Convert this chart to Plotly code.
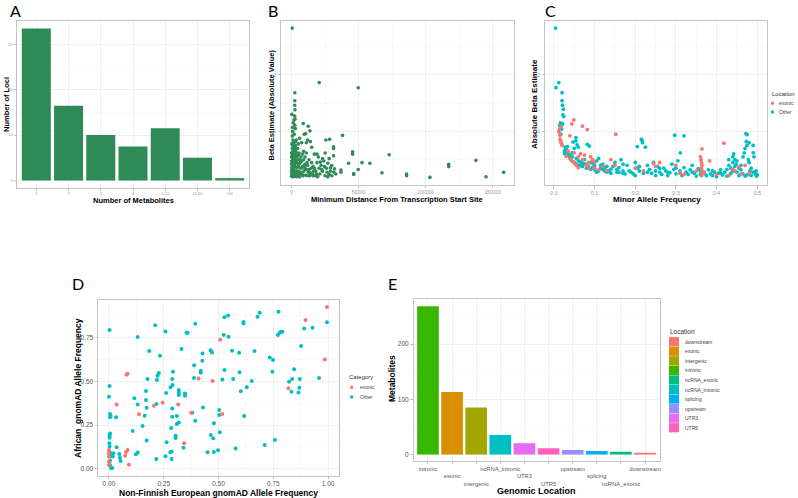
import plotly.graph_objects as go

W, H = 798, 498

# ---------------- Panel A ----------------
A_categories = ["1", "2", "3", "4", "5-10", "11-30", ">30"]
A_loci = [67, 33, 20, 15, 23, 10, 1]

# ---------------- Panel B ----------------
B_dist = [500, 20600, 49700, 2400, 2400, 2300, 2500, 200, 2300, 1800, 2400, 600, 8700, 12400, 13700,
          38000, 28400, 25600, 9400, 10500, 6000, 45500, 45500, 72800, 52500, 58400, 42500, 31300, 31300,
          31300, 28000, 23100, 36800, 36800, 46300, 46300, 49700, 67400, 85800, 85800, 103200, 117200,
          117200, 137500, 145000, 158200,
          14000, 12000, 11000, 7500, 5000, 3000, 1000, 15000, 17000, 20000, 22000, 24000, 26000, 27000,
          29000, 30000, 18000, 19000, 16000, 21000, 25000, 28000, 32000, 30000, 23000, 26500, 20500, 8000,
          9000, 10000, 11500, 13000, 14500, 12500, 9500, 7000, 6000, 5500, 4500, 4000, 3500, 6500, 8500,
          10500, 13500, 15500, 17500, 19500, 16500, 11000, 9000, 7500, 5000, 4000, 3000, 2000, 1000, 500,
          0, 0, 0, 0, 0, 0, 0, 0, 500, 500, 500, 500, 1000, 1000, 1000, 1000, 1000, 1500, 1500, 1500,
          1500, 2000, 2000, 2000, 2000, 2500, 2500, 2500, 2500, 3000, 3000, 3000, 3500, 3500, 3500, 4000,
          4000, 4500, 4500, 5000, 5000, 5500, 5500, 6000, 6500, 7000, 7000, 8000, 8000, 9000, 10000, 10000,
          11000, 12000, 12000, 13000, 14000, 15000, 16000, 17000, 18500, 3000, 1500, 500, 800, 2000, 3500,
          200, 2800, 1200, 2600, 29000, 33000, 31500, 27000, 24500, 22500, 21500, 19000, 25000]
B_beta = [2.82, 1.86, 1.77, 1.68, 1.54, 1.46, 1.38, 1.30, 1.27, 1.20, 1.11, 1.07, 1.14, 1.09, 1.01,
          0.93, 0.86, 0.85, 0.95, 0.96, 0.88, 0.64, 0.60, 0.59, 0.45, 0.44, 0.44, 0.73, 0.70,
          0.57, 0.52, 0.52, 0.32, 0.28, 0.26, 0.24, 0.33, 0.27, 0.25, 0.22, 0.19, 0.42,
          0.38, 0.49, 0.20, 0.28,
          0.82, 0.85, 0.80, 0.80, 0.78, 0.82, 0.85, 0.72, 0.60, 0.55, 0.40, 0.48, 0.35, 0.44,
          0.30, 0.40, 0.30, 0.45, 0.38, 0.25, 0.22, 0.24, 0.34, 0.22, 0.30, 0.28, 0.35, 0.60,
          0.65, 0.55, 0.45, 0.50, 0.35, 0.28, 0.40, 0.35, 0.50, 0.62, 0.70, 0.45, 0.30, 0.25, 0.22,
          0.23, 0.22, 0.25, 0.22, 0.20, 0.30, 0.33, 0.30, 0.48, 0.38, 0.55, 0.65, 0.72, 0.75, 0.70,
          0.62, 0.55, 0.48, 0.42, 0.36, 0.30, 0.25, 0.21, 0.58, 0.45, 0.33, 0.23, 0.65, 0.52, 0.40, 0.28, 0.20, 0.60, 0.47, 0.35,
          0.24, 0.55, 0.42, 0.31, 0.21, 0.68, 0.50, 0.38, 0.26, 0.57, 0.44, 0.22, 0.62, 0.48, 0.20, 0.36,
          0.24, 0.50, 0.28, 0.58, 0.22, 0.42, 0.30, 0.20, 0.45, 0.55, 0.27, 0.38, 0.24, 0.50, 0.35, 0.42,
          0.62, 0.40, 0.22, 0.33, 0.27, 0.45, 0.22, 0.35, 0.25, 0.75, 0.80, 0.92, 1.00, 0.95, 0.85,
          0.78, 1.05, 1.15, 1.22, 0.36, 0.25, 0.28, 0.20, 0.38, 0.33, 0.46, 0.60, 0.62]

# ---------------- Panel C ----------------
C_other_maf = [0.004, 0.005, 0.012, 0.020, 0.020, 0.021, 0.023, 0.022, 0.021, 0.019, 0.024, 0.018,
               0.054, 0.054, 0.057, 0.082, 0.087, 0.047, 0.026, 0.026, 0.030, 0.035, 0.040, 0.045, 0.050,
               0.060, 0.033, 0.038, 0.042, 0.050, 0.055, 0.060, 0.065, 0.070, 0.075, 0.080, 0.085, 0.090,
               0.095, 0.100, 0.105, 0.110, 0.115, 0.120, 0.125, 0.130, 0.140, 0.150, 0.155, 0.160, 0.165,
               0.170, 0.175, 0.180, 0.190, 0.200, 0.200, 0.205, 0.210, 0.215, 0.217, 0.218, 0.220, 0.205,
               0.225, 0.230, 0.235, 0.240, 0.245, 0.250, 0.255, 0.260, 0.265, 0.270, 0.275, 0.280, 0.285,
               0.290, 0.297, 0.320, 0.311, 0.295, 0.300, 0.305, 0.310, 0.315, 0.320, 0.325, 0.330, 0.335,
               0.340, 0.345, 0.350, 0.355, 0.360, 0.370, 0.375, 0.380, 0.385, 0.390, 0.395, 0.400, 0.405,
               0.410, 0.415, 0.420, 0.425, 0.430, 0.435, 0.440, 0.440, 0.440, 0.442, 0.445, 0.445, 0.448,
               0.450, 0.450, 0.455, 0.460, 0.460, 0.465, 0.465, 0.468, 0.470, 0.472, 0.475, 0.473, 0.480,
               0.475, 0.478, 0.480, 0.482, 0.485, 0.485, 0.490, 0.490, 0.490, 0.492, 0.495, 0.497, 0.498,
               0.500, 0.430, 0.425, 0.435, 0.455, 0.470, 0.475,
               0.100, 0.110, 0.120, 0.130, 0.140, 0.080, 0.090, 0.070, 0.060, 0.105, 0.135, 0.145, 0.160,
               0.170, 0.185, 0.195, 0.210, 0.230, 0.250, 0.260, 0.280, 0.300, 0.340, 0.360, 0.390, 0.410,
               0.170, 0.155, 0.125, 0.115, 0.095, 0.075, 0.065, 0.055, 0.045, 0.036, 0.030, 0.028, 0.016,
               0.017, 0.014]
C_other_beta = [2.82, 1.77, 1.86, 1.68, 1.54, 1.46, 1.39, 1.29, 1.13, 1.04, 1.26, 1.10,
                0.89, 0.83, 0.76, 0.77, 0.74, 0.81, 0.66, 0.61, 0.63, 0.60, 0.58, 0.62, 0.70,
                0.72, 0.73, 0.55, 0.50, 0.45, 0.42, 0.48, 0.40, 0.44, 0.50, 0.42, 0.38, 0.45,
                0.36, 0.40, 0.48, 0.52, 0.35, 0.42, 0.30, 0.38, 0.33, 0.45, 0.28, 0.36, 0.50,
                0.30, 0.25, 0.40, 0.28, 0.45, 0.22, 0.35, 0.30, 0.86, 0.83, 0.80, 0.26, 0.73,
                0.72, 0.40, 0.33, 0.26, 0.45, 0.22, 0.38, 0.28, 0.24, 0.35, 0.30, 0.22, 0.27,
                0.42, 0.93, 0.92, 0.62, 0.33, 0.25, 0.48, 0.30, 0.22, 0.36, 0.28, 0.24, 0.32,
                0.40, 0.26, 0.21, 0.34, 0.30, 0.26, 0.22, 0.32, 0.25, 0.22, 0.28, 0.20, 0.26,
                0.32, 0.23, 0.28, 0.21, 0.40, 0.35, 0.30, 0.45, 0.55, 0.60, 0.50, 0.38, 0.42,
                0.48, 0.28, 0.35, 0.32, 0.40, 0.25, 0.55, 0.62, 0.70, 0.96, 0.94, 0.82, 0.80,
                0.75, 0.50, 0.45, 0.30, 0.35, 0.22, 0.28, 0.62, 0.75, 0.55, 0.25, 0.30, 0.21,
                0.23, 0.50, 0.33, 0.26, 0.22, 0.21, 0.23,
                0.32, 0.30, 0.33, 0.28, 0.26, 0.35, 0.33, 0.38, 0.40, 0.28, 0.30, 0.38, 0.28,
                0.42, 0.30, 0.25, 0.38, 0.28, 0.30, 0.35, 0.28, 0.35, 0.28, 0.24, 0.30, 0.26,
                0.26, 0.33, 0.36, 0.40, 0.44, 0.42, 0.46, 0.52, 0.55, 0.58, 0.68, 0.72, 1.15,
                0.95, 1.10]
C_exonic_maf = [0.012, 0.015, 0.015, 0.018, 0.013, 0.016, 0.017, 0.020, 0.049, 0.044, 0.070, 0.082,
                0.039, 0.152, 0.364, 0.418, 0.383, 0.360, 0.362, 0.363, 0.364, 0.362, 0.365, 0.366,
                0.363, 0.040, 0.045, 0.050, 0.055, 0.060, 0.065, 0.070, 0.075, 0.080, 0.085, 0.090,
                0.095, 0.100, 0.110, 0.120, 0.130, 0.140, 0.060, 0.050, 0.035, 0.030, 0.200, 0.220,
                0.245, 0.260, 0.300, 0.310, 0.320, 0.350, 0.370, 0.400, 0.440, 0.445, 0.455, 0.460,
                0.480, 0.430, 0.470, 0.250, 0.150, 0.100, 0.085]
C_exonic_beta = [0.99, 0.93, 0.86, 0.79, 1.03, 1.08, 0.82, 0.75, 1.20, 1.13, 1.09, 1.03,
                 0.92, 0.95, 0.69, 0.79, 0.48, 0.55, 0.50, 0.45, 0.40, 0.35, 0.30, 0.26,
                 0.22, 0.52, 0.47, 0.44, 0.40, 0.55, 0.60, 0.50, 0.58, 0.40, 0.36, 0.55,
                 0.50, 0.35, 0.32, 0.38, 0.30, 0.50, 0.36, 0.62, 0.65, 0.56, 0.35, 0.30,
                 0.43, 0.45, 0.40, 0.26, 0.24, 0.30, 0.28, 0.24, 0.33, 0.30, 0.37, 0.25,
                 0.26, 0.22, 0.40, 0.38, 0.40, 0.45, 0.45]

# ---------------- Panel D ----------------
D_other_nfe = [0.003, 0.003, 0.000, 0.005, 0.008, 0.005, 0.005, 0.003, 0.003, 0.002, 0.003, 0.003,
               0.003, 0.005, 0.005, 0.009, 0.032, 0.035, 0.020, 0.050, 0.047, 0.053, 0.015, 0.014,
               0.017, 0.116, 0.131, 0.132, 0.123, 0.108, 0.131, 0.184, 0.176, 0.169, 0.169, 0.172,
               0.163, 0.153, 0.172, 0.211, 0.233, 0.216, 0.222, 0.219, 0.228, 0.217, 0.258, 0.261,
               0.263, 0.258, 0.280, 0.286, 0.286, 0.284, 0.289, 0.289, 0.290, 0.289, 0.292, 0.281,
               0.304, 0.304, 0.310, 0.319, 0.319, 0.319, 0.319, 0.310, 0.331, 0.340, 0.347, 0.347,
               0.354, 0.359, 0.389, 0.388, 0.394, 0.381, 0.394, 0.419, 0.419, 0.427, 0.426, 0.429,
               0.450, 0.464, 0.470, 0.465, 0.476, 0.479, 0.479, 0.498, 0.503, 0.503, 0.506, 0.518,
               0.524, 0.527, 0.527, 0.544, 0.546, 0.562, 0.567, 0.578, 0.594, 0.596, 0.602, 0.614,
               0.614, 0.617, 0.629, 0.652, 0.664, 0.678, 0.688, 0.734, 0.749, 0.746, 0.711, 0.758,
               0.774, 0.771, 0.780, 0.784, 0.792, 0.822, 0.833, 0.836, 0.845, 0.865, 0.869, 0.871,
               0.877, 0.891, 0.929, 0.959, 0.995]
D_other_afr = [0.794, 0.473, 0.412, 0.313, 0.302, 0.294, 0.202, 0.190, 0.177, 0.145, 0.126, 0.097,
               0.069, 0.046, 0.021, 0.004, 0.294, 0.122, 0.088, 0.063, 0.084, 0.044, 0.004, 0.082,
               0.069, 0.403, 0.368, 0.092, 0.082, 0.216, 0.754, 0.674, 0.513, 0.445, 0.393, 0.349,
               0.303, 0.244, 0.162, 0.821, 0.647, 0.055, 0.532, 0.508, 0.548, 0.370, 0.786, 0.433,
               0.151, 0.071, 0.094, 0.099, 0.055, 0.233, 0.298, 0.345, 0.479, 0.513, 0.555, 0.466,
               0.189, 0.176, 0.256, 0.450, 0.435, 0.422, 0.265, 0.302, 0.685, 0.120, 0.431, 0.418,
               0.779, 0.779, 0.592, 0.519, 0.275, 0.321, 0.830, 0.561, 0.550, 0.660, 0.618, 0.351,
               0.094, 0.679, 0.666, 0.193, 0.174, 0.260, 0.095, 0.105, 0.336, 0.307, 0.208, 0.511,
               0.765, 0.565, 0.868, 0.878, 0.756, 0.676, 0.513, 0.116, 0.664, 0.552, 0.443, 0.840,
               0.832, 0.302, 0.466, 0.502, 0.674, 0.870, 0.893, 0.637, 0.622, 0.555, 0.135, 0.164,
               0.899, 0.765, 0.779, 0.784, 0.784, 0.498, 0.441, 0.513, 0.569, 0.437, 0.464, 0.513,
               0.702, 0.803, 0.807, 0.519, 0.838]
D_exonic_nfe = [0.000, 0.000, 0.000, 0.000, 0.000, 0.035, 0.080, 0.085, 0.078, 0.085, 0.074, 0.091,
                0.137, 0.205, 0.245, 0.316, 0.343, 0.375, 0.409, 0.473, 0.508, 0.517, 0.819, 0.897,
                0.985, 0.995]
D_exonic_afr = [0.107, 0.088, 0.069, 0.040, 0.021, 0.368, 0.538, 0.544, 0.095, 0.107, 0.074, 0.023,
                0.311, 0.361, 0.378, 0.368, 0.145, 0.321, 0.517, 0.502, 0.739, 0.313, 0.460, 0.851,
                0.626, 0.926]

# ---------------- Panel E ----------------
E_locations = ["intronic", "exonic", "intergenic", "ncRNA_intronic", "UTR3", "UTR5",
               "upstream", "splicing", "ncRNA_exonic", "downstream"]
E_counts = [269, 113, 85, 35, 20, 11, 8, 6, 5, 3]
E_legend_order = ["downstream", "exonic", "intergenic", "intronic", "ncRNA_exonic",
                  "ncRNA_intronic", "splicing", "upstream", "UTR3", "UTR5"]
E_palette = {"downstream": "#F8766D", "exonic": "#D89000", "intergenic": "#A3A500",
             "intronic": "#39B600", "ncRNA_exonic": "#00BF7D", "ncRNA_intronic": "#00BFC4",
             "splicing": "#00B0F6", "upstream": "#9590FF", "UTR3": "#E76BF3", "UTR5": "#FF62BC"}

GREEN = "#2E8B57"
RED = "#F8766D"
TEAL = "#00BFC4"
FONT = "Liberation Sans"
FRAME = "#c4c4c4"
GRID = "#ececec"
MINOR = "#f6f6f6"


def fx(x):
    return x / W


def fy(y):
    return 1 - y / H


fig = go.Figure()

fig.add_trace(go.Bar(x=A_categories, y=A_loci, marker_color=GREEN, width=0.9,
                     marker_line_width=0, xaxis="x", yaxis="y"))
fig.add_trace(go.Scatter(x=B_dist, y=B_beta, mode="markers",
                         marker=dict(color=GREEN, size=3.6), xaxis="x2", yaxis="y2"))
fig.add_trace(go.Scatter(x=C_other_maf, y=C_other_beta, mode="markers",
                         marker=dict(color=TEAL, size=3.8), xaxis="x3", yaxis="y3"))
fig.add_trace(go.Scatter(x=C_exonic_maf, y=C_exonic_beta, mode="markers",
                         marker=dict(color=RED, size=3.8), xaxis="x3", yaxis="y3"))
fig.add_trace(go.Scatter(x=D_other_nfe, y=D_other_afr, mode="markers",
                         marker=dict(color=TEAL, size=4), xaxis="x4", yaxis="y4"))
fig.add_trace(go.Scatter(x=D_exonic_nfe, y=D_exonic_afr, mode="markers",
                         marker=dict(color=RED, size=4), xaxis="x4", yaxis="y4"))
fig.add_trace(go.Bar(x=E_locations, y=E_counts, width=0.9, marker_line_width=0,
                     marker_color=[E_palette[k] for k in E_locations], xaxis="x5", yaxis="y5"))


def axis(domain, rng, anchor, tickvals=None, ticktext=None, tsize=5, tcolor="#9a9a9a",
         minor_dtick=None, minor_tick0=0, fmt=None, grid=True, category=False, ticklen=2.5):
    d = dict(domain=domain, range=rng, anchor=anchor, showline=True, mirror=True,
             linecolor=FRAME, linewidth=1, ticks="outside", ticklen=ticklen, tickcolor="#b0b0b0",
             tickwidth=0.8, tickfont=dict(size=tsize, color=tcolor, family=FONT), tickangle=0,
             showgrid=grid, gridcolor=GRID, gridwidth=0.8, zeroline=False, automargin=False,
             fixedrange=True)
    if category:
        d["type"] = "category"
    if tickvals is not None:
        d["tickmode"] = "array"
        d["tickvals"] = tickvals
        if ticktext is not None:
            d["ticktext"] = ticktext
    if fmt:
        d["tickformat"] = fmt
    if minor_dtick is not None:
        d["minor"] = dict(dtick=minor_dtick, tick0=minor_tick0, showgrid=True,
                          gridcolor=MINOR, gridwidth=0.8, ticks="")
    return d


E_ticktext = [("<br>" * (i % 3)) + name for i, name in enumerate(E_locations)]

layout = dict(
    width=W, height=H, margin=dict(l=0, r=0, t=0, b=0), showlegend=False,
    paper_bgcolor="white", plot_bgcolor="white", template="none",
    font=dict(family=FONT),
    xaxis=axis([fx(17), fx(249)], [-0.6, 6.6], "y", tsize=4, category=True, ticklen=1.5),
    yaxis=axis([fy(188), fy(21)], [-3.35, 70.35], "x", tickvals=[0, 20, 40, 60], tsize=4,
               minor_dtick=10, minor_tick0=10),
    xaxis2=axis([fx(281), fx(514)], [-7900, 165900], "y2", tickvals=[0, 50000, 100000, 150000],
                tsize=5, fmt="d", minor_dtick=50000, minor_tick0=25000),
    yaxis2=axis([fy(184.5), fy(21)], [0.065, 2.945], "x2", tickvals=[1, 2], tsize=5.5,
                minor_dtick=1, minor_tick0=0.5),
    xaxis3=axis([fx(545), fx(767)], [-0.022, 0.524], "y3", tickvals=[0, 0.1, 0.2, 0.3, 0.4, 0.5],
                tsize=5.5, fmt=".1f", minor_dtick=0.1, minor_tick0=0.05),
    yaxis3=axis([fy(185), fy(21)], [0.053, 2.945], "x3", tickvals=[1, 2], tsize=5.5,
                minor_dtick=1, minor_tick0=0.5),
    xaxis4=axis([fx(98), fx(339)], [-0.05, 1.05], "y4", tickvals=[0, 0.25, 0.5, 0.75, 1.0],
                tsize=6.5, tcolor="#555555", fmt=".2f", minor_dtick=0.25, minor_tick0=0.125,
                ticklen=1.5),
    yaxis4=axis([fy(476), fy(299.5)], [-0.042, 0.969], "x4", tickvals=[0, 0.25, 0.5, 0.75],
                tsize=6.5, tcolor="#555555", fmt=".2f", minor_dtick=0.25, minor_tick0=0.125),
    xaxis5=axis([fx(413.5), fx(659.5)], [-0.6, 9.6], "y5", tickvals=E_locations,
                ticktext=E_ticktext, tsize=5.8, tcolor="#555555", category=True, ticklen=1.8),
    yaxis5=axis([fy(461), fy(299)], [-12, 282], "x5", tickvals=[0, 100, 200], tsize=6.5,
                tcolor="#555555", minor_dtick=100, minor_tick0=50),
)

annotations = []
shapes = []


def text(x, y, s, size, bold=False, angle=0, xanchor="center", color="black", family=FONT):
    annotations.append(dict(x=fx(x), y=fy(y), xref="paper", yref="paper", text=(f"<b>{s}</b>" if bold else s),
                            showarrow=False, xanchor=xanchor, yanchor="middle", textangle=angle,
                            font=dict(size=size, color=color, family=family)))


# panel letters
for letter, (lx, ly) in {"A": (15, 10), "B": (273, 10), "C": (550, 10),
                         "D": (78, 283), "E": (392, 283)}.items():
    text(lx, ly, letter, 16, family="Lato")

# axis titles
text(133, 200.5, "Number of Metabolites", 7.5, bold=True)
text(7, 105, "Number of Loci", 7.5, bold=True, angle=-90)
text(397, 199, "Minimum Distance From Transcription Start Site", 7.5, bold=True)
text(271.5, 105, "Beta Estimate (Absolute Value)", 7.5, bold=True, angle=-90)
text(657, 199, "Minor Allele Frequency", 8, bold=True)
text(535, 104, "Absolute Beta Estimate", 8, bold=True, angle=-90)
text(218, 492.5, "Non-Finnish European gnomAD Allele Frequency", 8.5, bold=True)
text(78, 388, "African\u00a0 gnomAD Allele Frequency", 8.5, bold=True, angle=-90)
text(536, 491, "Genomic Location", 9, bold=True)
text(392, 379, "Metabolites", 8.5, bold=True, angle=-90)


def point_legend(title, labels, colors, x0, ytitle, ys, mx, tx):
    text(x0, ytitle, title, 6, xanchor="left", color="#333333")
    for lab, col, yy in zip(labels, colors, ys):
        r = 1.7
        shapes.append(dict(type="circle", xref="paper", yref="paper", x0=fx(mx - r), x1=fx(mx + r),
                           y0=fy(yy + r), y1=fy(yy - r), fillcolor=col, line=dict(width=0)))
        text(tx, yy, lab, 5, xanchor="left", color="#444444")


point_legend("Location", ["exonic", "Other"], [RED, TEAL], 770, 94.3, [103.3, 112], 772.5, 776.5)
point_legend("Category", ["exonic", "Other"], [RED, TEAL], 346.5, 377.3, [387.3, 397], 351.7, 357.5)

# legend E
text(668.3, 331, "Location", 6.5, xanchor="left", color="#333333")
for i, name in enumerate(E_legend_order):
    yc = 341.7 + i * 9.56
    shapes.append(dict(type="rect", xref="paper", yref="paper", x0=fx(669), x1=fx(679),
                       y0=fy(yc + 4.6), y1=fy(yc - 4.6), fillcolor=E_palette[name], line=dict(width=0)))
    text(682.5, yc, name, 5, xanchor="left", color="#444444")

layout["annotations"] = annotations
layout["shapes"] = shapes
fig.update_layout(**layout)
fig.write_html("out.html", config={"displayModeBar": False, "staticPlot": True},
               post_script="document.body.style.margin='0';document.body.style.overflow='hidden';")
